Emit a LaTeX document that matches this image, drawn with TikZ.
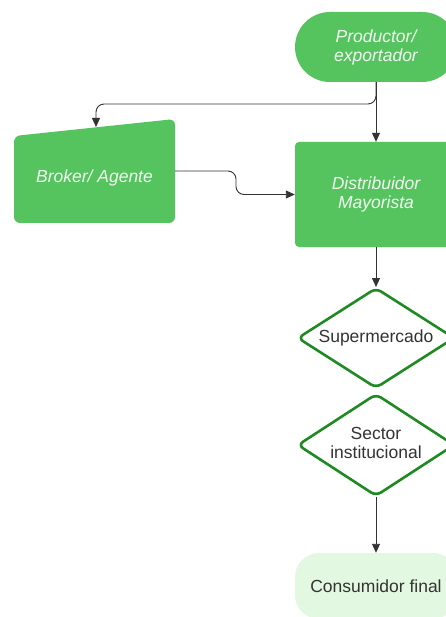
\documentclass[tikz,border=0pt]{standalone}
\usepackage{fontspec}
\setmainfont{Liberation Sans}
\usetikzlibrary{shapes.geometric,arrows.meta}
\definecolor{nodegreen}{HTML}{55C45E}
\definecolor{darkgreen}{HTML}{1E8A22}
\definecolor{lightgreen}{HTML}{E3F8E1}
\definecolor{linegray}{HTML}{333333}
\definecolor{textgray}{HTML}{333333}
\definecolor{whitetext}{HTML}{F2FAF2}
\begin{document}
\begin{tikzpicture}[x=1pt,y=-1pt,
  font=\fontsize{17.5}{19}\selectfont,
  greenbox/.style={fill=nodegreen, text=whitetext, font=\fontsize{17.5}{19}\selectfont\itshape, align=center, inner sep=0pt, minimum width=162pt},
  decisionline/.style={draw=darkgreen, line width=2.6pt, fill=white, rounded corners=6pt, line join=round},
  decisiontext/.style={text=textgray, align=center, inner sep=0pt},
  conn/.style={draw=linegray, line width=0.9pt, -{Triangle[length=9pt,width=8pt]}},
]
\path[use as bounding box, clip] (0,0) rectangle (446,617);
\fill[white] (0,0) rectangle (446,617);

% nodes
\node[greenbox, minimum height=70pt, rounded corners=35pt] (prod) at (376,47) {Productor/\\exportador};
\fill[nodegreen, rounded corners=6pt] (14,136) -- (175,119) -- (175,223) -- (14,223) -- cycle;
\node[text=whitetext, font=\fontsize{17.5}{19}\selectfont\itshape, minimum width=161pt, minimum height=90pt, inner sep=0pt] (broker) at (94.5,178) {Broker/ Agente};
\coordinate (brokerin) at (96,127);
\coordinate (brokerout) at (175,171);
\node[greenbox, minimum height=105pt, rounded corners=4pt] (dist) at (376,194.5) {Distribuidor\\Mayorista};

% decision diamonds
\path[decisionline] (376,288.3) -- (454,338) -- (376,387.7) -- (298,338) -- cycle;
\coordinate (supertop) at (376,287);
\node[decisiontext] (super) at (376,338) {Supermercado};
\path[decisionline] (376,394.3) -- (454,445) -- (376,495.7) -- (298,445) -- cycle;
\coordinate (sectorbottom) at (376,497);
\node[decisiontext] (sector) at (376,443) {Sector\\institucional};

\node[fill=lightgreen, text=textgray, minimum width=162pt, minimum height=66pt, rounded corners=24pt, inner sep=0pt] (cons) at (376,586) {Consumidor final};

% connectors
\draw[conn] (prod.south) -- (dist.north);
\draw[conn, rounded corners=8pt] (prod.south) -- (376,104) -- (96,104) -- (brokerin);
\draw[conn, rounded corners=8pt] (brokerout) -- (236,171) -- (236,194.5) -- (dist.west);
\draw[conn] (dist.south) -- (supertop);
\draw[conn] (sectorbottom) -- (cons.north);
\end{tikzpicture}
\end{document}
